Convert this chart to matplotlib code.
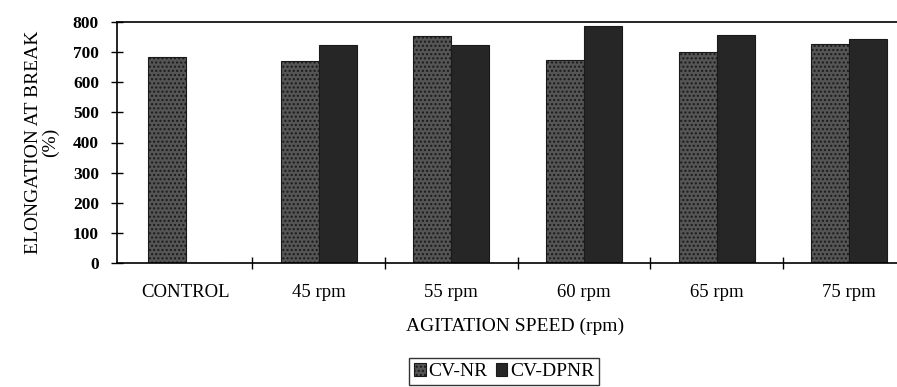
import matplotlib
matplotlib.use("Agg")
import matplotlib.pyplot as plt
import numpy as np

categories = ["CONTROL", "45 rpm", "55 rpm", "60 rpm", "65 rpm", "75 rpm"]
cv_nr = [685, 670, 755, 675, 701, 727]
cv_dpnr = [0, 723, 722, 786, 756, 743]
y_ticks = [0, 100, 200, 300, 400, 500, 600, 700, 800]

plt.rcParams['font.family'] = ['Liberation Serif', 'DejaVu Serif']
plt.rcParams['hatch.color'] = "#8a8a8a"

fig = plt.figure(figsize=(8.97, 3.87), dpi=100)
ax = fig.add_axes([117 / 897, 124 / 387, 796 / 897, 241 / 387])

x = np.arange(len(categories))
w = 0.287
ax.bar(x - w / 2, cv_nr, width=w, color="#555555", edgecolor="#1a1a1a",
       linewidth=0.8, hatch="....", label="CV-NR")
ax.bar(x + w / 2, cv_dpnr, width=w, color="#262626", edgecolor="#1a1a1a",
       linewidth=0.8, label="CV-DPNR")

ax.set_xlim(-0.52, len(categories) - 0.52)
ax.set_ylim(0, 800)
ax.set_yticks(y_ticks)
ax.set_yticklabels([str(v) for v in y_ticks], fontsize=12.5, fontweight="bold")
ax.set_xticks(x)
ax.set_xticklabels(categories, fontsize=13.5)
ax.set_xticks(np.arange(0.5, len(categories) - 0.5, 1), minor=True)
ax.tick_params(axis="x", which="major", length=0, pad=15)
ax.tick_params(axis="x", which="minor", direction="inout", length=8, width=1)
ax.tick_params(axis="y", direction="inout", length=8, width=1, pad=9)

for s in ["left", "bottom", "top"]:
    ax.spines[s].set_linewidth(1.2)
ax.spines["right"].set_visible(False)

ax.set_ylabel("ELONGATION AT BREAK\n(%)", fontsize=14, linespacing=1.0, labelpad=10)
ax.set_xlabel("AGITATION SPEED (rpm)", fontsize=14, labelpad=12)

leg = fig.legend(loc="upper center", bbox_to_anchor=(0.562, 0.074), ncol=2,
                 fontsize=14, frameon=True, fancybox=False, edgecolor="black",
                 handlelength=0.6, handleheight=0.6, handletextpad=0.15,
                 columnspacing=0.4, borderpad=0.25, borderaxespad=0.0)
leg.get_frame().set_linewidth(1.0)

fig.savefig("out.png", dpi=100)
